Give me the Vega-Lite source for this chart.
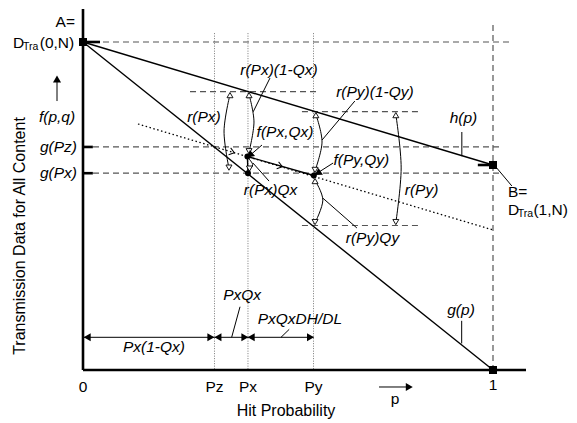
{
  "$schema": "https://vega.github.io/schema/vega-lite/v6.json",
  "width": 577,
  "height": 423,
  "padding": 0,
  "autosize": {"type": "none"},
  "background": "white",
  "config": {"view": {"stroke": null}},
  "datasets": {
    "dashed": [
      {"p": 0, "v": 1, "p2": 1.041, "v2": 1},
      {"p": 0, "v": 0.68, "p2": 1.024, "v2": 0.68},
      {"p": 0, "v": 0.6, "p2": 1.024, "v2": 0.6},
      {"p": 1, "v": 1.052, "p2": 1, "v2": 0},
      {"p": 0.261, "v": 0.849, "p2": 0.578, "v2": 0.849},
      {"p": 0.534, "v": 0.788, "p2": 0.817, "v2": 0.788},
      {"p": 0.534, "v": 0.4405, "p2": 0.817, "v2": 0.4405}
    ],
    "dottedV": [
      {"p": 0.3207, "v": 1.027, "p2": 0.3207, "v2": 0},
      {"p": 0.4024, "v": 1.027, "p2": 0.4024, "v2": 0},
      {"p": 0.5622, "v": 1.027, "p2": 0.5622, "v2": 0}
    ],
    "dottedSlant": [
      {"p": 0.1341, "v": 0.75, "p2": 1, "v2": 0.427}
    ],
    "mainLines": [
      {"p": 0, "v": 1, "p2": 1, "v2": 0},
      {"p": 0, "v": 1, "p2": 1, "v2": 0.625},
      {"p": 0.401, "v": 0.651, "p2": 0.563, "v2": 0.593},
      {"p": 0.401, "v": 0.651, "p2": 0.4024, "v2": 0.6}
    ],
    "leaders": [
      {"p": 0.456, "v": 0.89, "p2": 0.415, "v2": 0.787},
      {"p": 0.4366, "v": 0.686, "p2": 0.405, "v2": 0.652},
      {"p": 0.4537, "v": 0.576, "p2": 0.4146, "v2": 0.631},
      {"p": 0.663, "v": 0.82, "p2": 0.583, "v2": 0.701},
      {"p": 0.61, "v": 0.631, "p2": 0.568, "v2": 0.5976},
      {"p": 0.668, "v": 0.433, "p2": 0.585, "v2": 0.524},
      {"p": 0.924, "v": 0.7256, "p2": 0.924, "v2": 0.652},
      {"p": 0.9236, "v": 0.15, "p2": 0.9236, "v2": 0.081},
      {"p": 1.005, "v": 0.622, "p2": 1.046, "v2": 0.561},
      {"p": 0.383, "v": 0.1928, "p2": 0.3626, "v2": 0.0997},
      {"p": 0.503, "v": 0.124, "p2": 0.483, "v2": 0.0997},
      {"p": -0.0634, "v": 0.82, "p2": -0.0634, "v2": 0.88},
      {"p": 0.722, "v": -0.0518, "p2": 0.79, "v2": -0.0518},
      {"p": 0, "v": 0.0997, "p2": 0.3207, "v2": 0.0997},
      {"p": 0.3207, "v": 0.0997, "p2": 0.4024, "v2": 0.0997},
      {"p": 0.4024, "v": 0.0997, "p2": 0.5622, "v2": 0.0997}
    ],
    "thick": [
      {"p": 0, "v": 1.1006, "p2": 0, "v2": 0},
      {"p": 0, "v": 0, "p2": 1.0805, "v2": 0},
      {"p": 0, "v": 1, "p2": 0.0415, "v2": 1},
      {"p": 0.963, "v": 0.625, "p2": 1, "v2": 0.625},
      {"p": 0, "v": 0.68, "p2": 0.024, "v2": 0.68},
      {"p": 0, "v": 0.6, "p2": 0.024, "v2": 0.6}
    ],
    "arcs": [
      {"id": "rPx", "o": 1, "p": 0.3585, "v": 0.84},
      {"id": "rPx", "o": 2, "p": 0.344, "v": 0.7287},
      {"id": "rPx", "o": 3, "p": 0.356, "v": 0.615},
      {"id": "rPx1Qx", "o": 1, "p": 0.405, "v": 0.84},
      {"id": "rPx1Qx", "o": 2, "p": 0.417, "v": 0.756},
      {"id": "rPx1Qx", "o": 3, "p": 0.405, "v": 0.665},
      {"id": "rPxQx", "o": 1, "p": 0.404, "v": 0.645},
      {"id": "rPxQx", "o": 2, "p": 0.414, "v": 0.626},
      {"id": "rPxQx", "o": 3, "p": 0.406, "v": 0.612},
      {"id": "rPy1Qy", "o": 1, "p": 0.568, "v": 0.779},
      {"id": "rPy1Qy", "o": 2, "p": 0.583, "v": 0.695},
      {"id": "rPy1Qy", "o": 3, "p": 0.566, "v": 0.608},
      {"id": "rPyQy", "o": 1, "p": 0.566, "v": 0.578},
      {"id": "rPyQy", "o": 2, "p": 0.585, "v": 0.518},
      {"id": "rPyQy", "o": 3, "p": 0.566, "v": 0.449},
      {"id": "rPy", "o": 1, "p": 0.763, "v": 0.779},
      {"id": "rPy", "o": 2, "p": 0.776, "v": 0.616},
      {"id": "rPy", "o": 3, "p": 0.763, "v": 0.449}
    ],
    "openHeads": [
      {"p": 0.3585, "v": 0.838, "dir": "up"},
      {"p": 0.356, "v": 0.617, "dir": "down"},
      {"p": 0.405, "v": 0.838, "dir": "up"},
      {"p": 0.405, "v": 0.667, "dir": "down"},
      {"p": 0.406, "v": 0.614, "dir": "down"},
      {"p": 0.568, "v": 0.777, "dir": "up"},
      {"p": 0.566, "v": 0.61, "dir": "down"},
      {"p": 0.566, "v": 0.576, "dir": "up"},
      {"p": 0.566, "v": 0.451, "dir": "down"},
      {"p": 0.763, "v": 0.777, "dir": "up"},
      {"p": 0.763, "v": 0.451, "dir": "down"}
    ],
    "solidHeads": [
      {"p": -0.0634, "v": 0.884, "angle": 0},
      {"p": 0.793, "v": -0.0518, "angle": 90},
      {"p": 0.013, "v": 0.0997, "angle": 270},
      {"p": 0.309, "v": 0.0997, "angle": 90},
      {"p": 0.332, "v": 0.0997, "angle": 270},
      {"p": 0.392, "v": 0.0997, "angle": 90},
      {"p": 0.413, "v": 0.0997, "angle": 270},
      {"p": 0.552, "v": 0.0997, "angle": 90},
      {"p": 0.409, "v": 0.657, "angle": 230},
      {"p": 0.575, "v": 0.602, "angle": 237}
    ],
    "chevrons": [
      {"p": 0.4805, "v": 0.622, "angle": 16},
      {"p": 0.3634, "v": 0.6646, "angle": 17}
    ],
    "dots": [
      {"p": 0.401, "v": 0.651},
      {"p": 0.4024, "v": 0.6},
      {"p": 0.563, "v": 0.593}
    ],
    "squares": [
      {"p": 0, "v": 1},
      {"p": 1, "v": 0.625},
      {"p": 1, "v": 0}
    ],
    "plainCenter": [
      {"label": "0", "p": 0, "v": -0.0518},
      {"label": "Pz", "p": 0.3207, "v": -0.0518},
      {"label": "Px", "p": 0.4024, "v": -0.0518},
      {"label": "Py", "p": 0.5622, "v": -0.0518},
      {"label": "1", "p": 1, "v": -0.0457},
      {"label": "p", "p": 0.761, "v": -0.0884}
    ],
    "plainLeft": [
      {"label": "D", "p": -0.1707, "v": 0.997},
      {"label": "(0,N)", "p": -0.1055, "v": 0.997},
      {"label": "B=", "p": 1.0366, "v": 0.5427},
      {"label": "D", "p": 1.0366, "v": 0.4878},
      {"label": "(1,N)", "p": 1.0985, "v": 0.4878}
    ],
    "plainRight": [
      {"label": "A=", "p": -0.0195, "v": 1.061}
    ],
    "subText": [
      {"label": "Tra", "p": -0.1462, "v": 0.9848},
      {"label": "Tra", "p": 1.0605, "v": 0.4756}
    ],
    "titles": [
      {"label": "Hit Probability", "p": 0.4951, "v": -0.125}
    ],
    "yTitle": [
      {"label": "Transmission Data for All Content", "p": -0.1537, "v": 0.4085}
    ],
    "italicCenter": [
      {"label": "f(p,q)", "p": -0.0634, "v": 0.7713},
      {"label": "r(Px)(1-Qx)", "p": 0.478, "v": 0.915},
      {"label": "r(Py)(1-Qy)", "p": 0.712, "v": 0.8485},
      {"label": "r(Px)", "p": 0.295, "v": 0.771},
      {"label": "f(Px,Qx)", "p": 0.4927, "v": 0.7266},
      {"label": "f(Py,Qy)", "p": 0.679, "v": 0.64},
      {"label": "r(Px)Qx", "p": 0.4573, "v": 0.5488},
      {"label": "r(Py)Qy", "p": 0.706, "v": 0.4024},
      {"label": "r(Py)", "p": 0.8256, "v": 0.549},
      {"label": "h(p)", "p": 0.928, "v": 0.768},
      {"label": "g(p)", "p": 0.922, "v": 0.183},
      {"label": "Px(1-Qx)", "p": 0.173, "v": 0.0701},
      {"label": "PxQx", "p": 0.388, "v": 0.2287},
      {"label": "PxQxDH/DL", "p": 0.529, "v": 0.155}
    ],
    "italicRight": [
      {"label": "g(Pz)", "p": -0.0146, "v": 0.68},
      {"label": "g(Px)", "p": -0.0146, "v": 0.6}
    ]
  },
  "encoding": {
    "x": {"field": "p", "type": "quantitative", "scale": {"domain": [-0.20244, 1.20488], "nice": false, "zero": false}, "axis": null},
    "y": {"field": "v", "type": "quantitative", "scale": {"domain": [-0.16159, 1.12805], "nice": false, "zero": false}, "axis": null}
  },
  "layer": [
    {"data": {"name": "dottedV"}, "mark": {"type": "rule", "stroke": "#777", "strokeWidth": 1, "strokeDash": [1, 1.5]}, "encoding": {"x2": {"field": "p2"}, "y2": {"field": "v2"}}},
    {"data": {"name": "dashed"}, "mark": {"type": "rule", "stroke": "#555", "strokeWidth": 1.2, "strokeDash": [6, 4]}, "encoding": {"x2": {"field": "p2"}, "y2": {"field": "v2"}}},
    {"data": {"name": "dottedSlant"}, "mark": {"type": "rule", "stroke": "#000", "strokeWidth": 1.3, "strokeDash": [1.5, 2.5]}, "encoding": {"x2": {"field": "p2"}, "y2": {"field": "v2"}}},
    {"data": {"name": "mainLines"}, "mark": {"type": "rule", "stroke": "#000", "strokeWidth": 1.4}, "encoding": {"x2": {"field": "p2"}, "y2": {"field": "v2"}}},
    {"data": {"name": "leaders"}, "mark": {"type": "rule", "stroke": "#000", "strokeWidth": 1}, "encoding": {"x2": {"field": "p2"}, "y2": {"field": "v2"}}},
    {"data": {"name": "thick"}, "mark": {"type": "rule", "stroke": "#000", "strokeWidth": 2.6}, "encoding": {"x2": {"field": "p2"}, "y2": {"field": "v2"}}},
    {"data": {"name": "arcs"}, "mark": {"type": "line", "stroke": "#000", "strokeWidth": 1, "interpolate": "cardinal"}, "encoding": {"detail": {"field": "id"}, "order": {"field": "o", "type": "quantitative"}}},
    {"data": {"name": "openHeads"}, "mark": {"type": "point", "filled": true, "fill": "white", "stroke": "#000", "strokeWidth": 0.9, "size": 36, "opacity": 1}, "encoding": {"shape": {"field": "dir", "type": "nominal", "scale": {"domain": ["up", "down"], "range": ["triangle-up", "triangle-down"]}, "legend": null}}},
    {"data": {"name": "solidHeads"}, "mark": {"type": "point", "shape": "triangle", "filled": true, "fill": "#000", "size": 65, "opacity": 1}, "encoding": {"angle": {"field": "angle", "type": "quantitative", "scale": null}}},
    {"data": {"name": "chevrons"}, "mark": {"type": "point", "shape": "M-0.7,-1L0.7,0L-0.7,1", "filled": false, "stroke": "#000", "strokeWidth": 1, "size": 50, "opacity": 1}, "encoding": {"angle": {"field": "angle", "type": "quantitative", "scale": null}}},
    {"data": {"name": "dots"}, "mark": {"type": "point", "shape": "circle", "filled": true, "fill": "#000", "size": 36, "opacity": 1}},
    {"data": {"name": "squares"}, "mark": {"type": "point", "shape": "square", "filled": true, "fill": "#000", "size": 64, "opacity": 1}},
    {"data": {"name": "plainCenter"}, "mark": {"type": "text", "font": "Liberation Sans", "fontSize": 15.5, "align": "center", "baseline": "middle", "fill": "#000"}, "encoding": {"text": {"field": "label"}}},
    {"data": {"name": "plainLeft"}, "mark": {"type": "text", "font": "Liberation Sans", "fontSize": 15.5, "align": "left", "baseline": "middle", "fill": "#000"}, "encoding": {"text": {"field": "label"}}},
    {"data": {"name": "plainRight"}, "mark": {"type": "text", "font": "Liberation Sans", "fontSize": 15.5, "align": "right", "baseline": "middle", "fill": "#000"}, "encoding": {"text": {"field": "label"}}},
    {"data": {"name": "subText"}, "mark": {"type": "text", "font": "Liberation Sans", "fontSize": 10.5, "align": "left", "baseline": "middle", "fill": "#000"}, "encoding": {"text": {"field": "label"}}},
    {"data": {"name": "titles"}, "mark": {"type": "text", "font": "Liberation Sans", "fontSize": 16, "align": "center", "baseline": "middle", "fill": "#000"}, "encoding": {"text": {"field": "label"}}},
    {"data": {"name": "yTitle"}, "mark": {"type": "text", "font": "Liberation Sans", "fontSize": 16, "align": "center", "baseline": "middle", "angle": 270, "fill": "#000"}, "encoding": {"text": {"field": "label"}}},
    {"data": {"name": "italicCenter"}, "mark": {"type": "text", "font": "Liberation Sans", "fontSize": 15.5, "fontStyle": "italic", "align": "center", "baseline": "middle", "fill": "#000"}, "encoding": {"text": {"field": "label"}}},
    {"data": {"name": "italicRight"}, "mark": {"type": "text", "font": "Liberation Sans", "fontSize": 15.5, "fontStyle": "italic", "align": "right", "baseline": "middle", "fill": "#000"}, "encoding": {"text": {"field": "label"}}}
  ]
}
